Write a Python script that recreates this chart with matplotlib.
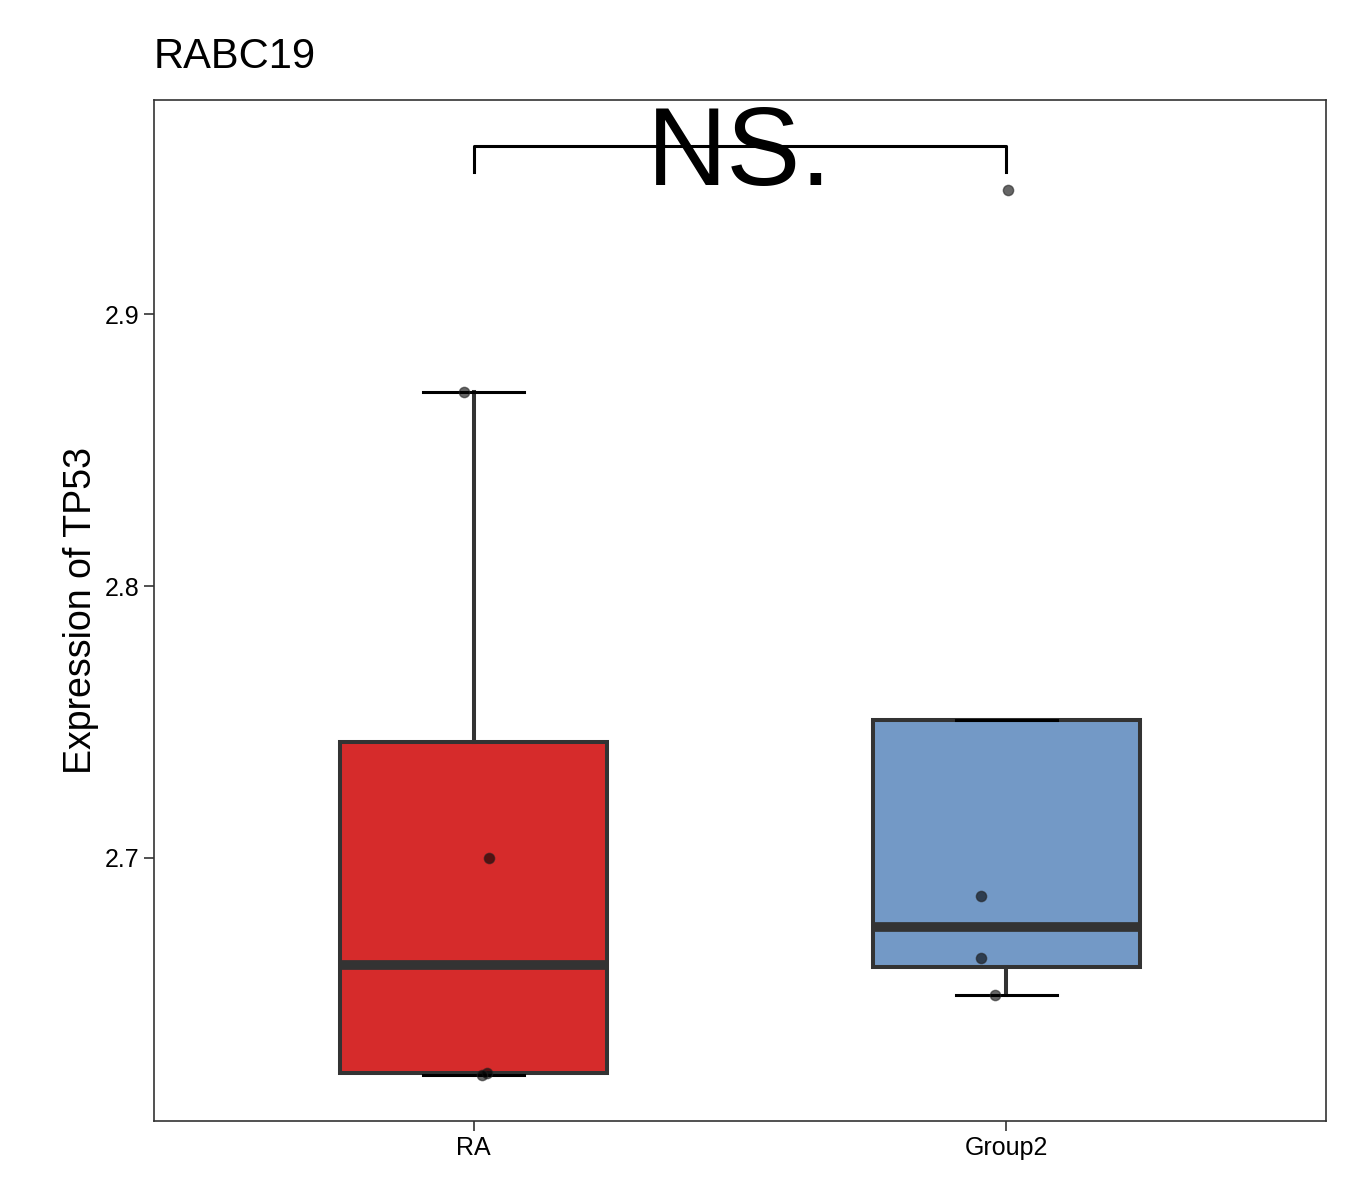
import matplotlib
matplotlib.use("Agg")
import matplotlib.pyplot as plt
import numpy as np

plt.rcParams['font.family'] = ['Liberation Sans', 'DejaVu Sans']

groups = ["RA", "Group2"]
colors = ["#D62B2B", "#7399C6"]
values = {
    "RA": [2.8713, 2.700, 2.6210, 2.6203],
    "Group2": [2.9456, 2.686, 2.6632, 2.6496],
}
jitter = {
    "RA": [-0.019, 0.028, 0.026, 0.015],
    "Group2": [0.004, -0.047, -0.047, -0.021],
}
title = "RABC19"
ylabel = "Expression of TP53"
sig_label = "NS."

fig = plt.figure(figsize=(13.5, 12), dpi=100)
ax = fig.add_axes([154/1350, 1-1121/1200, (1326-154)/1350, (1121-100)/1200])

data = [values[g] for g in groups]
bp = ax.boxplot(data, positions=[1, 2], widths=0.5, patch_artist=True,
                showfliers=False, whis=1.5, capwidths=0.19,
                medianprops=dict(color="#333333", linewidth=7),
                whiskerprops=dict(color="#333333", linewidth=2.9),
                capprops=dict(color="black", linewidth=2.2),
                boxprops=dict(edgecolor="#333333", linewidth=2.9))
for patch, c in zip(bp['boxes'], colors):
    patch.set_facecolor(c)
    patch.set_zorder(2)

for i, g in enumerate(groups):
    xs = np.array(jitter[g]) + i + 1
    ax.scatter(xs, values[g], s=55, color="black", alpha=0.6, zorder=5, edgecolors="#222222")

# significance bracket
yb, yt = 2.9522, 2.9618
ax.plot([1, 1, 2, 2], [yb, yt, yt, yb], color="black", lw=2.2, zorder=6)
ax.text(1.5, 2.958, sig_label, ha="center", va="center", fontsize=80, zorder=7)

ax.set_xlim(0.4, 2.6)
ax.set_ylim(2.6033, 2.9787)
ax.set_xticks([1, 2])
ax.set_xticklabels(groups, fontsize=18)
ax.set_yticks([2.7, 2.8, 2.9])
ax.set_yticklabels(["2.7", "2.8", "2.9"], fontsize=18)
ax.tick_params(length=7, width=1.2, color="#333333")
ax.set_ylabel(ylabel, fontsize=27)
for s in ax.spines.values():
    s.set_color("#333333")
    s.set_linewidth(1.2)
fig.text(154/1350, 1-68/1200, title, fontsize=30, ha="left", va="baseline")

fig.savefig("out.png", dpi=100)
